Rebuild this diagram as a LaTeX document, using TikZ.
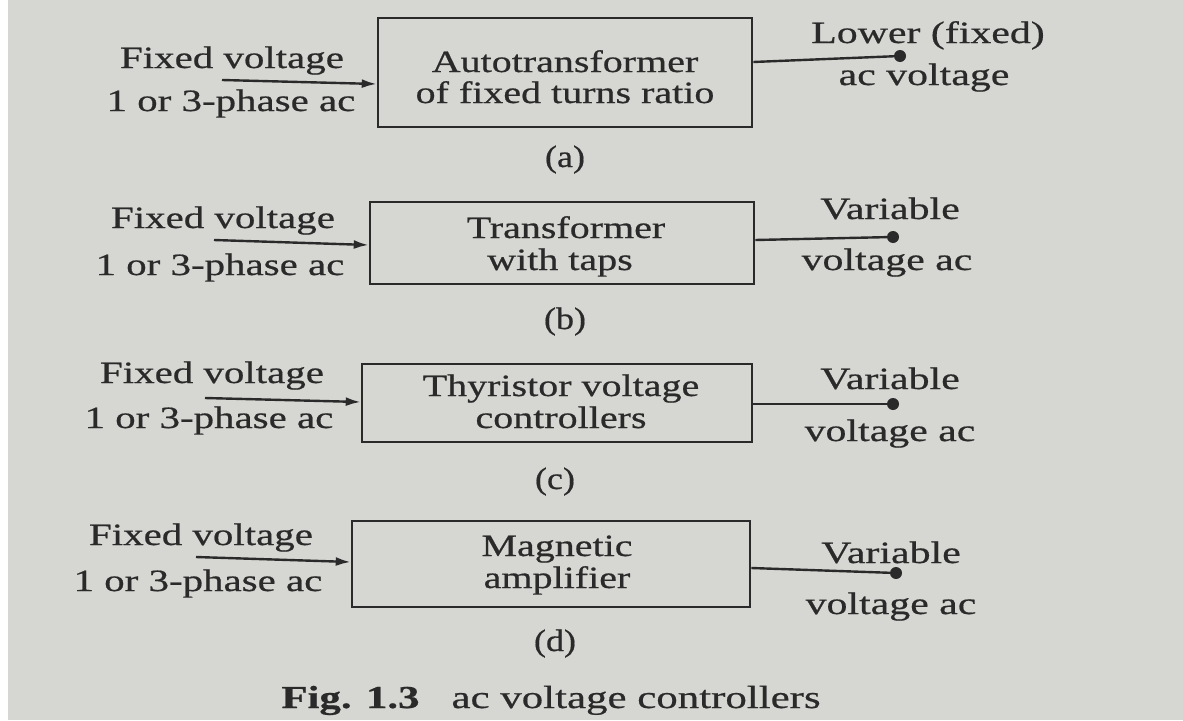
\documentclass[tikz,border=0pt]{standalone}
\usepackage{fontspec}
\setmainfont{Liberation Serif}
\newfontfamily\inwide[FakeStretch=1.32,FakeBold=0.6]{Liberation Serif}
\newfontfamily\boxwide[FakeStretch=1.29,FakeBold=0.6]{Liberation Serif}
\newfontfamily\outwide[FakeStretch=1.35,FakeBold=0.6]{Liberation Serif}
\newfontfamily\capwide[FakeStretch=1.34,FakeBold=0.6]{Liberation Serif}
\newfontfamily\subwide[FakeStretch=1.16,FakeBold=0.6]{Liberation Serif}
\usetikzlibrary{arrows.meta}
\definecolor{paper}{RGB}{214,214,211}
\definecolor{ink}{RGB}{42,42,42}
\begin{document}
\begin{tikzpicture}[x=1pt,y=-1pt,
  txt/.style={text=ink,inner sep=0pt,anchor=base},
  intxt/.style={txt,font=\inwide\fontsize{31}{31}\selectfont},
  boxtxt/.style={txt,font=\boxwide\fontsize{31}{31}\selectfont},
  outtxt/.style={txt,font=\outwide\fontsize{31}{31}\selectfont},
  subtxt/.style={txt,font=\subwide\fontsize{31}{31}\selectfont},
  blk/.style={draw=ink,line width=2.6pt,inner sep=0pt},
  inarrow/.style={draw=ink,line width=2.4pt,-{Latex[length=15pt,width=9pt]}},
  outline/.style={draw=ink,line width=2.4pt},
  dotnode/.style={circle,fill=ink,inner sep=0pt,minimum size=12pt}]
\fill[white] (0,0) rectangle (1183,720);
\fill[paper] (8,0) rectangle (1183,720);
\useasboundingbox (0,0) rectangle (1183,720);

% (a)
\node[blk,minimum width=374pt,minimum height=109pt] (ba) at (565,72.5) {};
\node[boxtxt] (ta1) at (565,72) {Autotransformer};
\node[boxtxt] (ta2) at (565,103) {of fixed turns ratio};
\node[intxt] (ia1) at (232,68) {Fixed voltage};
\node[intxt] (ia2) at (231,111) {1 or 3-phase ac};
\coordinate (sa) at (222,80);
\draw[inarrow] (sa) -- ([yshift=-11.5pt]ba.west);
\node[dotnode] (da) at (900,56) {};
\draw[outline] ([yshift=10.5pt]ba.east) -- (da);
\node[outtxt] (oa1) at (928,43) {Lower (fixed)};
\node[outtxt] (oa2) at (924,85) {ac voltage};
\node[subtxt] (la) at (565,167) {(a)};

% (b)
\node[blk,minimum width=384pt,minimum height=82pt] (bb) at (562,243) {};
\node[boxtxt] (tb1) at (566,238) {Transformer};
\node[boxtxt] (tb2) at (560,270) {with taps};
\node[intxt] (ib1) at (223,228) {Fixed voltage};
\node[intxt] (ib2) at (220,275) {1 or 3-phase ac};
\coordinate (sb) at (214,240);
\draw[inarrow] (sb) -- ([yshift=-2pt]bb.west);
\node[dotnode] (db) at (893,237) {};
\draw[outline] ([yshift=3pt]bb.east) -- (db);
\node[outtxt] (ob1) at (890,219) {Variable};
\node[outtxt] (ob2) at (887,270) {voltage ac};
\node[subtxt] (lb) at (565,329) {(b)};

% (c)
\node[blk,minimum width=390pt,minimum height=78pt] (bc) at (557,403) {};
\node[boxtxt] (tc1) at (561,396) {Thyristor voltage};
\node[boxtxt] (tc2) at (561,428) {controllers};
\node[intxt] (ic1) at (212,383) {Fixed voltage};
\node[intxt] (ic2) at (209,428) {1 or 3-phase ac};
\coordinate (sc) at (205,398);
\draw[inarrow] (sc) -- ([yshift=1pt]bc.west);
\node[dotnode] (dc) at (893,404) {};
\draw[outline] ([yshift=-1pt]bc.east) -- (dc);
\node[outtxt] (oc1) at (890,389) {Variable};
\node[outtxt] (oc2) at (890,441) {voltage ac};
\node[subtxt] (lc) at (555,489) {(c)};

% (d)
\node[blk,minimum width=398pt,minimum height=86pt] (bd) at (551,564) {};
\node[boxtxt] (td1) at (557,556) {Magnetic};
\node[boxtxt] (td2) at (557,588) {amplifier};
\node[intxt] (id1) at (201,545) {Fixed voltage};
\node[intxt] (id2) at (198,591) {1 or 3-phase ac};
\coordinate (sd) at (196,557);
\draw[inarrow] (sd) -- ([yshift=2pt]bd.west);
\node[dotnode] (dd) at (896,573) {};
\draw[outline] ([yshift=-4pt]bd.east) -- (dd);
\node[outtxt] (od1) at (891,563) {Variable};
\node[outtxt] (od2) at (891,614) {voltage ac};
\node[subtxt] (ld) at (555,651) {(d)};

% caption
\node[txt,font=\capwide\fontsize{32}{32}\selectfont] (cap) at (551,708) {\textbf{Fig. 1.3}\quad ac voltage controllers};
\end{tikzpicture}
\end{document}
